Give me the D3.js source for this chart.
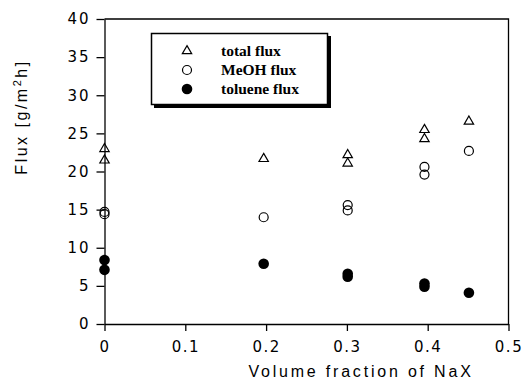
<!DOCTYPE html>
<html>
<head>
<meta charset="utf-8">
<script src="https://cdn.jsdelivr.net/npm/d3@7"></script>
<style>
  body { margin: 0; background: #fff; }
  svg text { fill: #000; }
</style>
</head>
<body>
<script>
// x positions (volume fraction of NaX) and measured fluxes
const xTotal = [0, 0, 0.197, 0.301, 0.301, 0.396, 0.396, 0.451];
const total = [23.1, 21.6, 21.8, 22.3, 21.2, 25.6, 24.4, 26.7];
const xMeoh = [0, 0, 0.197, 0.301, 0.301, 0.396, 0.396, 0.451];
const meoh = [14.7, 14.4, 14.0, 15.6, 14.9, 20.6, 19.6, 22.7];
const xTol = [0, 0, 0.197, 0.301, 0.301, 0.396, 0.396, 0.451];
const toluene = [8.4, 7.1, 7.9, 6.6, 6.2, 5.3, 4.9, 4.1];
const xTicks = [0, 0.1, 0.2, 0.3, 0.4, 0.5];
const yTicks = [0, 5, 10, 15, 20, 25, 30, 35, 40];
const legendLabels = ['total flux', 'MeOH flux', 'toluene flux'];

const width = 523, height = 379;
const margin = { top: 19, right: 15, bottom: 55, left: 104.5 };

const svg = d3.create('svg')
    .attr('width', width)
    .attr('height', height)
    .attr('viewBox', [0, 0, width, height]);

const x = d3.scaleLinear().domain([0, 0.5]).range([margin.left, 508.5]);
const y = d3.scaleLinear().domain([0, 40]).range([324, margin.top]);

const tickFont = '"DejaVu Sans", sans-serif';
const titleFont = '"Liberation Sans", Arial, sans-serif';

// frame: top and right lines
svg.append('path')
    .attr('d', `M${x(0)},${y(40)}H${x(0.5)}V${y(0)}`)
    .attr('fill', 'none')
    .attr('stroke', '#000')
    .attr('stroke-width', 1.3);

svg.append('g')
    .attr('transform', `translate(0,${y(0)})`)
    .call(d3.axisBottom(x).tickValues(xTicks).tickFormat(d => d === 0 ? '0' : d3.format('.1f')(d)).tickSize(7).tickPadding(10).tickSizeOuter(0))
    .call(g => g.selectAll('text').attr('font-size', 15).attr('font-family', tickFont).attr('letter-spacing', 1.5))
    .call(g => g.selectAll('line, path').attr('stroke-width', 1.3));

svg.append('g')
    .attr('transform', `translate(${x(0)},0)`)
    .call(d3.axisLeft(y).tickValues(yTicks).tickSize(8).tickPadding(6).tickSizeOuter(0))
    .call(g => g.selectAll('text').attr('font-size', 15).attr('font-family', tickFont).attr('letter-spacing', 2))
    .call(g => g.selectAll('line, path').attr('stroke-width', 1.3));

// axis titles
svg.append('text')
    .attr('x', 361).attr('y', 377)
    .attr('text-anchor', 'middle')
    .attr('font-family', titleFont)
    .attr('font-size', 16)
    .attr('letter-spacing', 2.8)
    .text('Volume fraction of NaX');

const yt = svg.append('text')
    .attr('transform', 'translate(27,117) rotate(-90)')
    .attr('text-anchor', 'middle')
    .attr('font-family', titleFont)
    .attr('font-size', 16)
    .attr('letter-spacing', 2.5);
yt.append('tspan').text('Flux [g/m');
yt.append('tspan').attr('font-size', 11).attr('dy', -6).text('2');
yt.append('tspan').attr('dy', 6).text('h]');

const tri = d3.symbol().type(d3.symbolTriangle).size(38);

function pts(xs, ys) { return xs.map((v, i) => [v, ys[i]]); }

svg.append('g').selectAll('path')
  .data(pts(xTotal, total))
  .join('path')
    .attr('transform', d => `translate(${x(d[0])},${y(d[1]) + 1})`)
    .attr('d', tri)
    .attr('fill', 'none')
    .attr('stroke', '#000')
    .attr('stroke-width', 1.2);

svg.append('g').selectAll('circle')
  .data(pts(xMeoh, meoh))
  .join('circle')
    .attr('cx', d => x(d[0]))
    .attr('cy', d => y(d[1]))
    .attr('r', 4.5)
    .attr('fill', 'none')
    .attr('stroke', '#000')
    .attr('stroke-width', 1.2);

svg.append('g').selectAll('circle')
  .data(pts(xTol, toluene))
  .join('circle')
    .attr('cx', d => x(d[0]))
    .attr('cy', d => y(d[1]))
    .attr('r', 5.3)
    .attr('fill', '#000');

// legend
const lg = svg.append('g');
lg.append('rect').attr('x', 154).attr('y', 36).attr('width', 177).attr('height', 72).attr('fill', '#000');
lg.append('rect').attr('x', 151.5).attr('y', 33.5).attr('width', 176).attr('height', 71)
    .attr('fill', '#fff').attr('stroke', '#000').attr('stroke-width', 1.5);

const ly = [51, 70, 89];
lg.append('path').attr('transform', `translate(187,${ly[0]})`).attr('d', tri)
    .attr('fill', 'none').attr('stroke', '#000').attr('stroke-width', 1.2);
lg.append('circle').attr('cx', 187).attr('cy', ly[1]).attr('r', 4.5)
    .attr('fill', 'none').attr('stroke', '#000').attr('stroke-width', 1.2);
lg.append('circle').attr('cx', 187).attr('cy', ly[2]).attr('r', 5.3).attr('fill', '#000');

lg.selectAll('text')
  .data(legendLabels)
  .join('text')
    .attr('x', 221)
    .attr('y', (d, i) => ly[i] + 5)
    .attr('font-family', '"Liberation Serif", "Times New Roman", serif')
    .attr('font-weight', 'bold')
    .attr('font-size', 15.5)
    .text(d => d);

document.body.append(svg.node());
</script>
</body>
</html>
